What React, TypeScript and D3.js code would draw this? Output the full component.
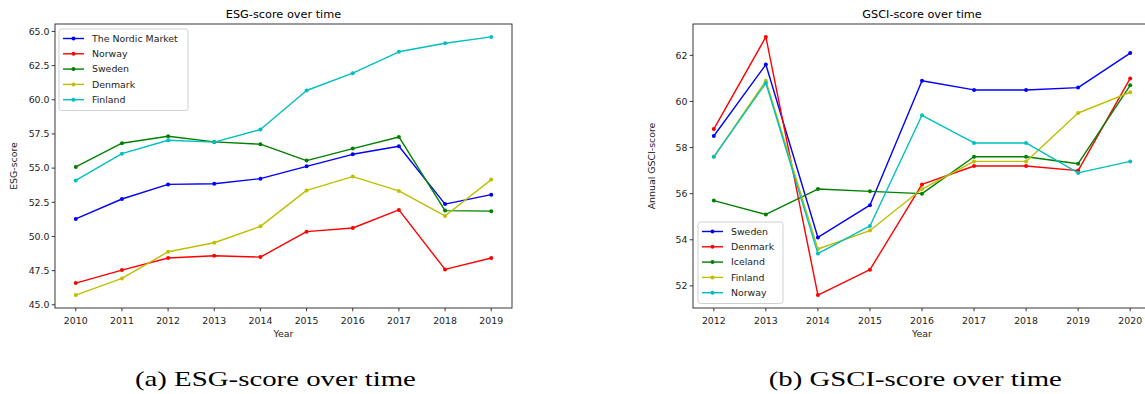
import React from "react";
import * as d3 from "d3";

const esgYears = [2010, 2011, 2012, 2013, 2014, 2015, 2016, 2017, 2018, 2019];
const esgNordic = [51.28, 52.74, 53.81, 53.86, 54.23, 55.13, 56.01, 56.6, 52.37, 53.06];
const esgNorway = [46.59, 47.54, 48.42, 48.59, 48.49, 50.35, 50.62, 51.94, 47.59, 48.42];
const esgSweden = [55.09, 56.82, 57.33, 56.92, 56.75, 55.55, 56.43, 57.28, 51.89, 51.85];
const esgDenmark = [45.71, 46.93, 48.88, 49.54, 50.74, 53.37, 54.38, 53.33, 51.5, 54.16];
const esgFinland = [54.1, 56.06, 57.04, 56.9, 57.82, 60.68, 61.95, 63.51, 64.14, 64.6];
const esgTicks = [45.0, 47.5, 50.0, 52.5, 55.0, 57.5, 60.0, 62.5, 65.0];

const gsciYears = [2012, 2013, 2014, 2015, 2016, 2017, 2018, 2019, 2020];
const gsciSweden = [58.5, 61.6, 54.1, 55.5, 60.9, 60.5, 60.5, 60.6, 62.1];
const gsciDenmark = [58.8, 62.8, 51.6, 52.7, 56.4, 57.2, 57.2, 57.0, 61.0];
const gsciIceland = [55.7, 55.1, 56.2, 56.1, 56.0, 57.6, 57.6, 57.3, 60.7];
const gsciFinland = [57.6, 60.9, 53.6, 54.4, 56.2, 57.4, 57.4, 59.5, 60.4];
const gsciNorway = [57.6, 60.8, 53.4, 54.6, 59.4, 58.2, 58.2, 56.9, 57.4];
const gsciTicks = [52, 54, 56, 58, 60, 62];

const BLUE = "#0000ff";
const RED = "#ff0000";
const GREEN = "#008000";
const YELLOW = "#bfbf00";
const CYAN = "#00bfbf";

type Series = { name: string; color: string; values: number[] };

const esgSeries: Series[] = [
  { name: "The Nordic Market", color: BLUE, values: esgNordic },
  { name: "Norway", color: RED, values: esgNorway },
  { name: "Sweden", color: GREEN, values: esgSweden },
  { name: "Denmark", color: YELLOW, values: esgDenmark },
  { name: "Finland", color: CYAN, values: esgFinland },
];

const gsciSeries: Series[] = [
  { name: "Sweden", color: BLUE, values: gsciSweden },
  { name: "Denmark", color: RED, values: gsciDenmark },
  { name: "Iceland", color: GREEN, values: gsciIceland },
  { name: "Finland", color: YELLOW, values: gsciFinland },
  { name: "Norway", color: CYAN, values: gsciNorway },
];

const FONT = "DejaVu Sans, sans-serif";
const TICK_FS = 9.4;

type PanelProps = {
  left: number;
  top: number;
  width: number;
  height: number;
  years: number[];
  series: Series[];
  yTicks: number[];
  yFmt: (v: number) => string;
  title: string;
  yLabel: string;
  legendX: number;
  legendY: number;
  legendW: number;
  clipId: string;
};

function extent(series: Series[]): [number, number] {
  const all = series.flatMap((s) => s.values);
  const mn = d3.min(all) as number;
  const mx = d3.max(all) as number;
  const pad = (mx - mn) * 0.05;
  return [mn - pad, mx + pad];
}

function Panel(p: PanelProps) {
  const x0 = p.years[0];
  const x1 = p.years[p.years.length - 1];
  const xp = (x1 - x0) * 0.05;
  const x = d3.scaleLinear().domain([x0 - xp, x1 + xp]).range([p.left, p.left + p.width]);
  const y = d3.scaleLinear().domain(extent(p.series)).range([p.top + p.height, p.top]);
  const line = d3
    .line<number>()
    .x((_, i) => x(p.years[i]))
    .y((v) => y(v));
  const bottom = p.top + p.height;
  const right = p.left + p.width;
  return (
    <g>
      <defs>
        <clipPath id={p.clipId}>
          <rect x={p.left - 5} y={p.top - 5} width={p.width + 10} height={p.height + 10} />
        </clipPath>
      </defs>
      <text
        x={p.left + p.width / 2}
        y={p.top - 6}
        textAnchor="middle"
        fontFamily={FONT}
        fontSize={11.3}
        fill="#000"
      >
        {p.title}
      </text>
      <g clipPath={`url(#${p.clipId})`}>
        {p.series.map((s) => (
          <g key={s.name}>
            <path d={line(s.values) || ""} fill="none" stroke={s.color} strokeWidth={1.4} strokeLinejoin="round" />
            {s.values.map((v, i) => (
              <circle key={i} cx={x(p.years[i])} cy={y(v)} r={2} fill={s.color} />
            ))}
          </g>
        ))}
      </g>
      {/* spines */}
      <rect x={p.left} y={p.top} width={p.width} height={p.height} fill="none" stroke="#222" strokeWidth={0.9} />
      {/* x ticks */}
      {p.years.map((yr) => (
        <g key={yr}>
          <line x1={x(yr)} x2={x(yr)} y1={bottom} y2={bottom + 3.3} stroke="#222" strokeWidth={0.9} />
          <text x={x(yr)} y={bottom + 16} textAnchor="middle" fontFamily={FONT} fontSize={TICK_FS} fill="#222">
            {yr}
          </text>
        </g>
      ))}
      {p.yTicks.map((t) => (
        <g key={t}>
          <line x1={p.left - 3.3} x2={p.left} y1={y(t)} y2={y(t)} stroke="#222" strokeWidth={0.9} />
          <text
            x={p.left - 5.5}
            y={y(t)}
            dy="0.35em"
            textAnchor="end"
            fontFamily={FONT}
            fontSize={TICK_FS}
            fill="#222"
          >
            {p.yFmt(t)}
          </text>
        </g>
      ))}
      <text x={p.left + p.width / 2} y={bottom + 29} textAnchor="middle" fontFamily={FONT} fontSize={TICK_FS} fill="#222">
        Year
      </text>
      <text
        transform={`translate(${p.left - 38},${p.top + p.height / 2}) rotate(-90)`}
        textAnchor="middle"
        fontFamily={FONT}
        fontSize={TICK_FS}
        fill="#222"
      >
        {p.yLabel}
      </text>
      {/* legend */}
      <g>
        <rect
          x={p.legendX}
          y={p.legendY}
          width={p.legendW}
          height={p.series.length * 15.3 + 5}
          rx={2.5}
          fill="#fff"
          fillOpacity={0.8}
          stroke="#cccccc"
          strokeWidth={0.9}
        />
        {p.series.map((s, i) => {
          const cy = p.legendY + 9.5 + i * 15.3;
          return (
            <g key={s.name}>
              <line x1={p.legendX + 4} x2={p.legendX + 25} y1={cy} y2={cy} stroke={s.color} strokeWidth={1.4} />
              <circle cx={p.legendX + 14.5} cy={cy} r={2} fill={s.color} />
              <text x={p.legendX + 33} y={cy} dy="0.35em" fontFamily={FONT} fontSize={TICK_FS} fill="#222">
                {s.name}
              </text>
            </g>
          );
        })}
      </g>
    </g>
  );
}

export default function App() {
  return (
    <svg
      width={1145}
      height={394}
      style={{ position: "absolute", left: 0, top: 0, background: "#fff" }}
    >
      <rect x={0} y={0} width={1145} height={394} fill="#fff" />
      <Panel
        left={55}
        top={24}
        width={457}
        height={284}
        years={esgYears}
        series={esgSeries}
        yTicks={esgTicks}
        yFmt={(v) => v.toFixed(1)}
        title="ESG-score over time"
        yLabel="ESG-score"
        legendX={59}
        legendY={29}
        legendW={129}
        clipId="clipA"
      />
      <Panel
        left={693}
        top={24}
        width={458}
        height={284}
        years={gsciYears}
        series={gsciSeries}
        yTicks={gsciTicks}
        yFmt={(v) => String(v)}
        title="GSCI-score over time"
        yLabel="Annual GSCI-score"
        legendX={698}
        legendY={222}
        legendW={85}
        clipId="clipB"
      />
      <text
        x={275.4}
        y={386}
        textAnchor="middle"
        fontFamily="Liberation Serif, serif"
        fontSize={22}
        textLength={281}
        lengthAdjust="spacingAndGlyphs"
        fill="#000"
      >
        (a) ESG-score over time
      </text>
      <text
        x={915.3}
        y={386}
        textAnchor="middle"
        fontFamily="Liberation Serif, serif"
        fontSize={22}
        textLength={293}
        lengthAdjust="spacingAndGlyphs"
        fill="#000"
      >
        (b) GSCI-score over time
      </text>
    </svg>
  );
}
